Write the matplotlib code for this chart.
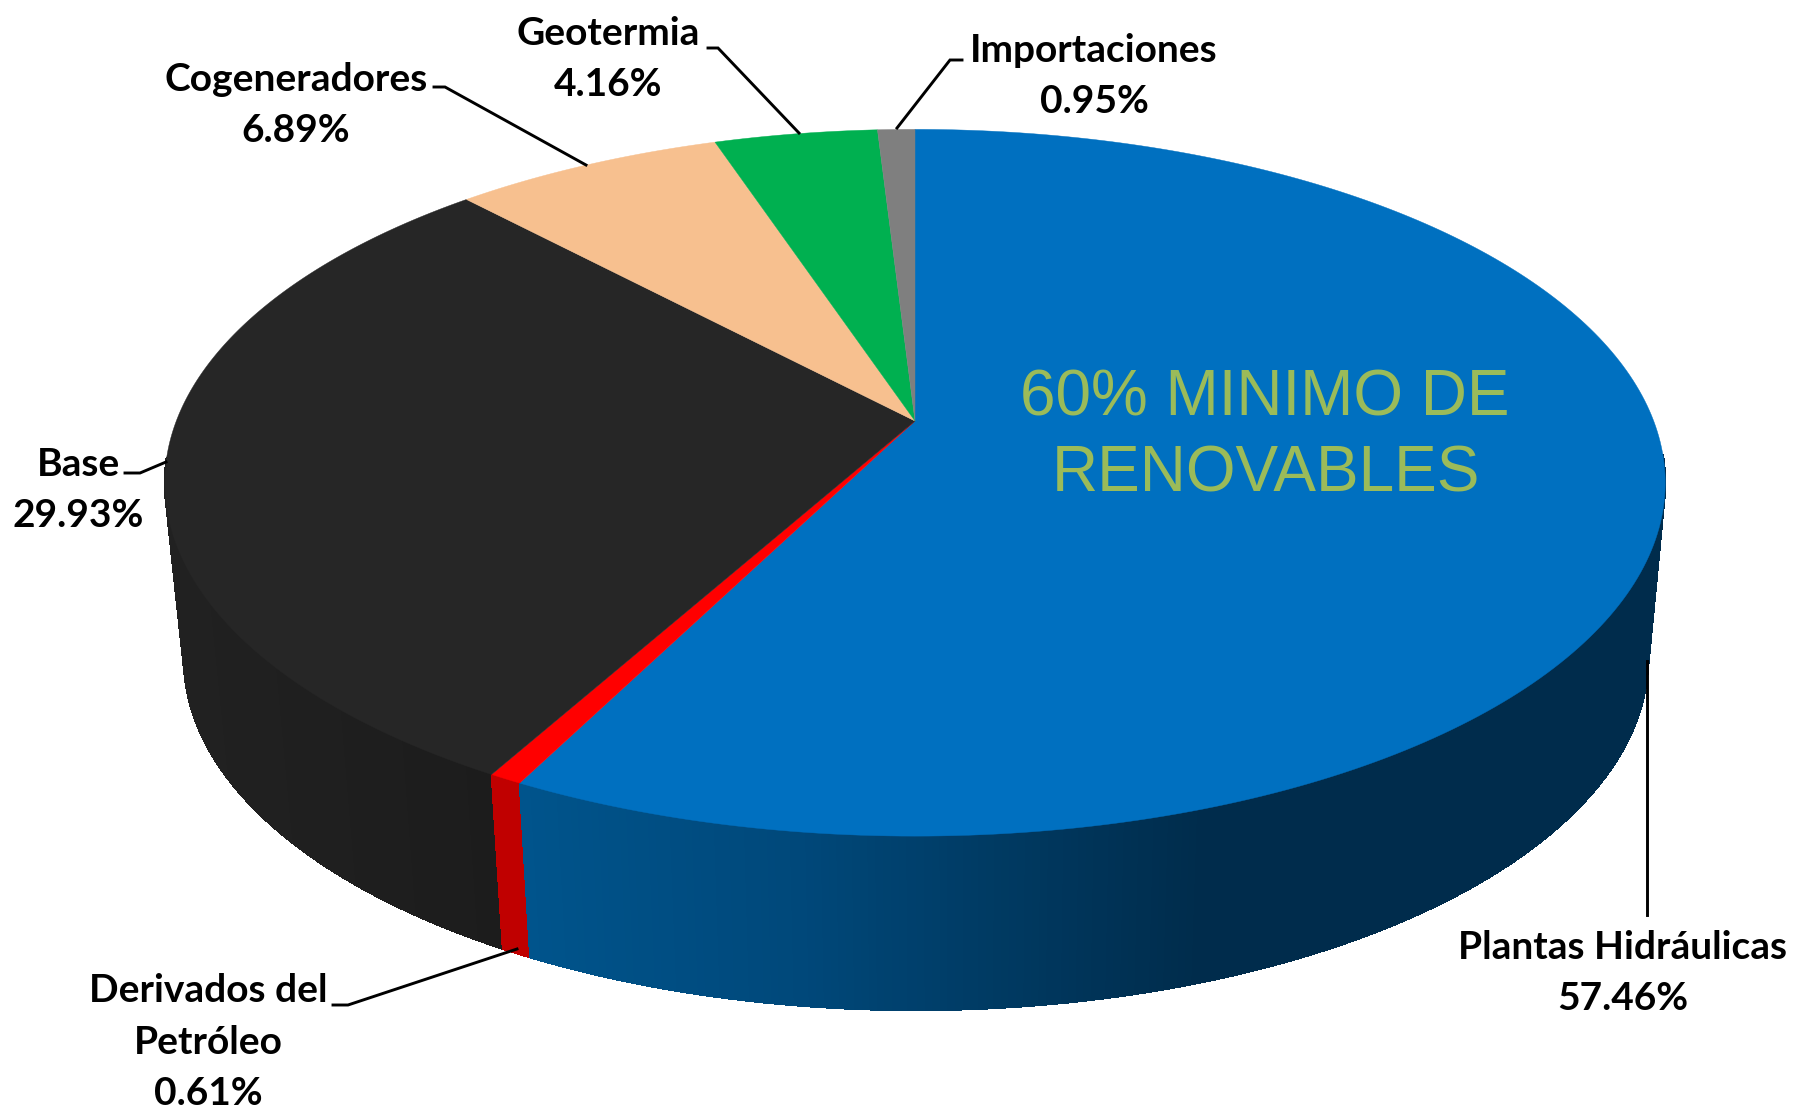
import numpy as np
import matplotlib
matplotlib.use("Agg")
import matplotlib.pyplot as plt
from matplotlib.patches import Polygon

# ---- data (clockwise from 12 o'clock) ----
categories = ["Plantas Hidráulicas", "Derivados del\nPetróleo", "Base",
              "Cogeneradores", "Geotermia", "Importaciones"]
shares = [57.46, 0.61, 29.93, 6.89, 4.16, 0.95]
percent_labels = ["57.46%", "0.61%", "29.93%", "6.89%", "4.16%", "0.95%"]
annotation_lines = ["60% MINIMO DE", "RENOVABLES"]

# ---- styles ----
top_colors = ["#0070C0", "#FF0000", "#262626", "#F7C08F", "#00B050", "#7F7F7F"]
K = 0.1747
TOP = dict(cx=915.0, cy=421.0, a=738.7, b=342.6)
BOT = dict(cx=916.0, cy=597.0, a=721.0, b=341.0)
label_pos = [(1623, 973), (208, 1042), (78, 490), (296, 105), (608, 59), (1094, 76)]
leaders = [
    [(1647, 661), (1647, 915)],
    [(333, 1005), (348, 1005), (517, 949)],
    [(125, 473), (140, 473), (166, 462)],
    [(434, 87), (445, 87), (586, 165)],
    [(708, 48), (718, 48), (799, 133)],
    [(962, 60), (950, 60), (897, 128)],
]


def project(theta_deg, m):
    t = np.radians(theta_deg)
    u, v = np.sin(t), -np.cos(t)
    d = 1 - K * v
    return m["cx"] + m["a"] * u / d, m["cy"] + m["b"] * v / d


def side_color(i, x):
    """Shade of the side wall of slice i at horizontal position x."""
    if i == 0:
        g = np.interp(x, [520, 800, 1000, 1200], [84, 72, 58, 44])
        b = np.interp(x, [520, 800, 1000, 1200], [140, 122, 98, 76])
        return (0, g / 255, b / 255)
    if i == 1:
        return "#C00000"
    if i == 2:
        s = np.interp(x, [180, 500], [33, 28]) / 255
        return (s, s, s)
    return "#333333"


fig = plt.figure(figsize=(17.93, 11.11), dpi=100, facecolor="white")
ax = fig.add_axes([0, 0, 1, 1])
ax.set_xlim(0, 1793)
ax.set_ylim(1111, 0)
ax.axis("off")

edges = np.concatenate([[0], np.cumsum(shares)]) / np.sum(shares) * 360.0

# side wall, painted back to front; the far part is hidden by the top face
quads = []
for i in range(len(shares)):
    angles = np.arange(edges[i], edges[i + 1], 0.5).tolist() + [edges[i + 1]]
    for t0, t1 in zip(angles[:-1], angles[1:]):
        depth = -np.cos(np.radians((t0 + t1) / 2))
        if depth > 0.1:
            quads.append((depth, i, t0, t1))
quads.sort(key=lambda q: q[0])
for _, i, t0, t1 in quads:
    x0, y0 = project(t0, TOP)
    x1, y1 = project(t1, TOP)
    x2, y2 = project(t1, BOT)
    x3, y3 = project(t0, BOT)
    c = side_color(i, (x0 + x1) / 2)
    ax.add_patch(Polygon([(x0, y0), (x1, y1), (x2, y2), (x3, y3)], closed=True,
                         facecolor=c, edgecolor=c, lw=0.7, antialiased=False, zorder=2))

# top face
for i, col in enumerate(top_colors):
    th = np.linspace(edges[i], edges[i + 1], 240)
    xs, ys = project(th, TOP)
    pts = [(TOP["cx"], TOP["cy"])] + list(zip(xs, ys))
    ax.add_patch(Polygon(pts, closed=True, facecolor=col, edgecolor=col, lw=0.3, zorder=3))

# leader lines
for seg in leaders:
    xs, ys = zip(*seg)
    ax.plot(xs, ys, color="black", lw=2.1, zorder=4, solid_joinstyle="miter")

# labels
for name, pct, (x, y) in zip(categories, percent_labels, label_pos):
    ax.text(x, y, f"{name}\n{pct}", ha="center", va="center", family="Lato",
            weight="bold", fontsize=28, color="black", linespacing=1.57, zorder=5)

# annotation over the blue slice
for line, (x, y) in zip(annotation_lines, [(1265, 398), (1266, 475)]):
    ax.text(x, y, line, ha="center", va="center", family="Liberation Sans",
            fontsize=46, color="#9BBB59", zorder=5)

fig.savefig("out.png", dpi=100, facecolor="white")
